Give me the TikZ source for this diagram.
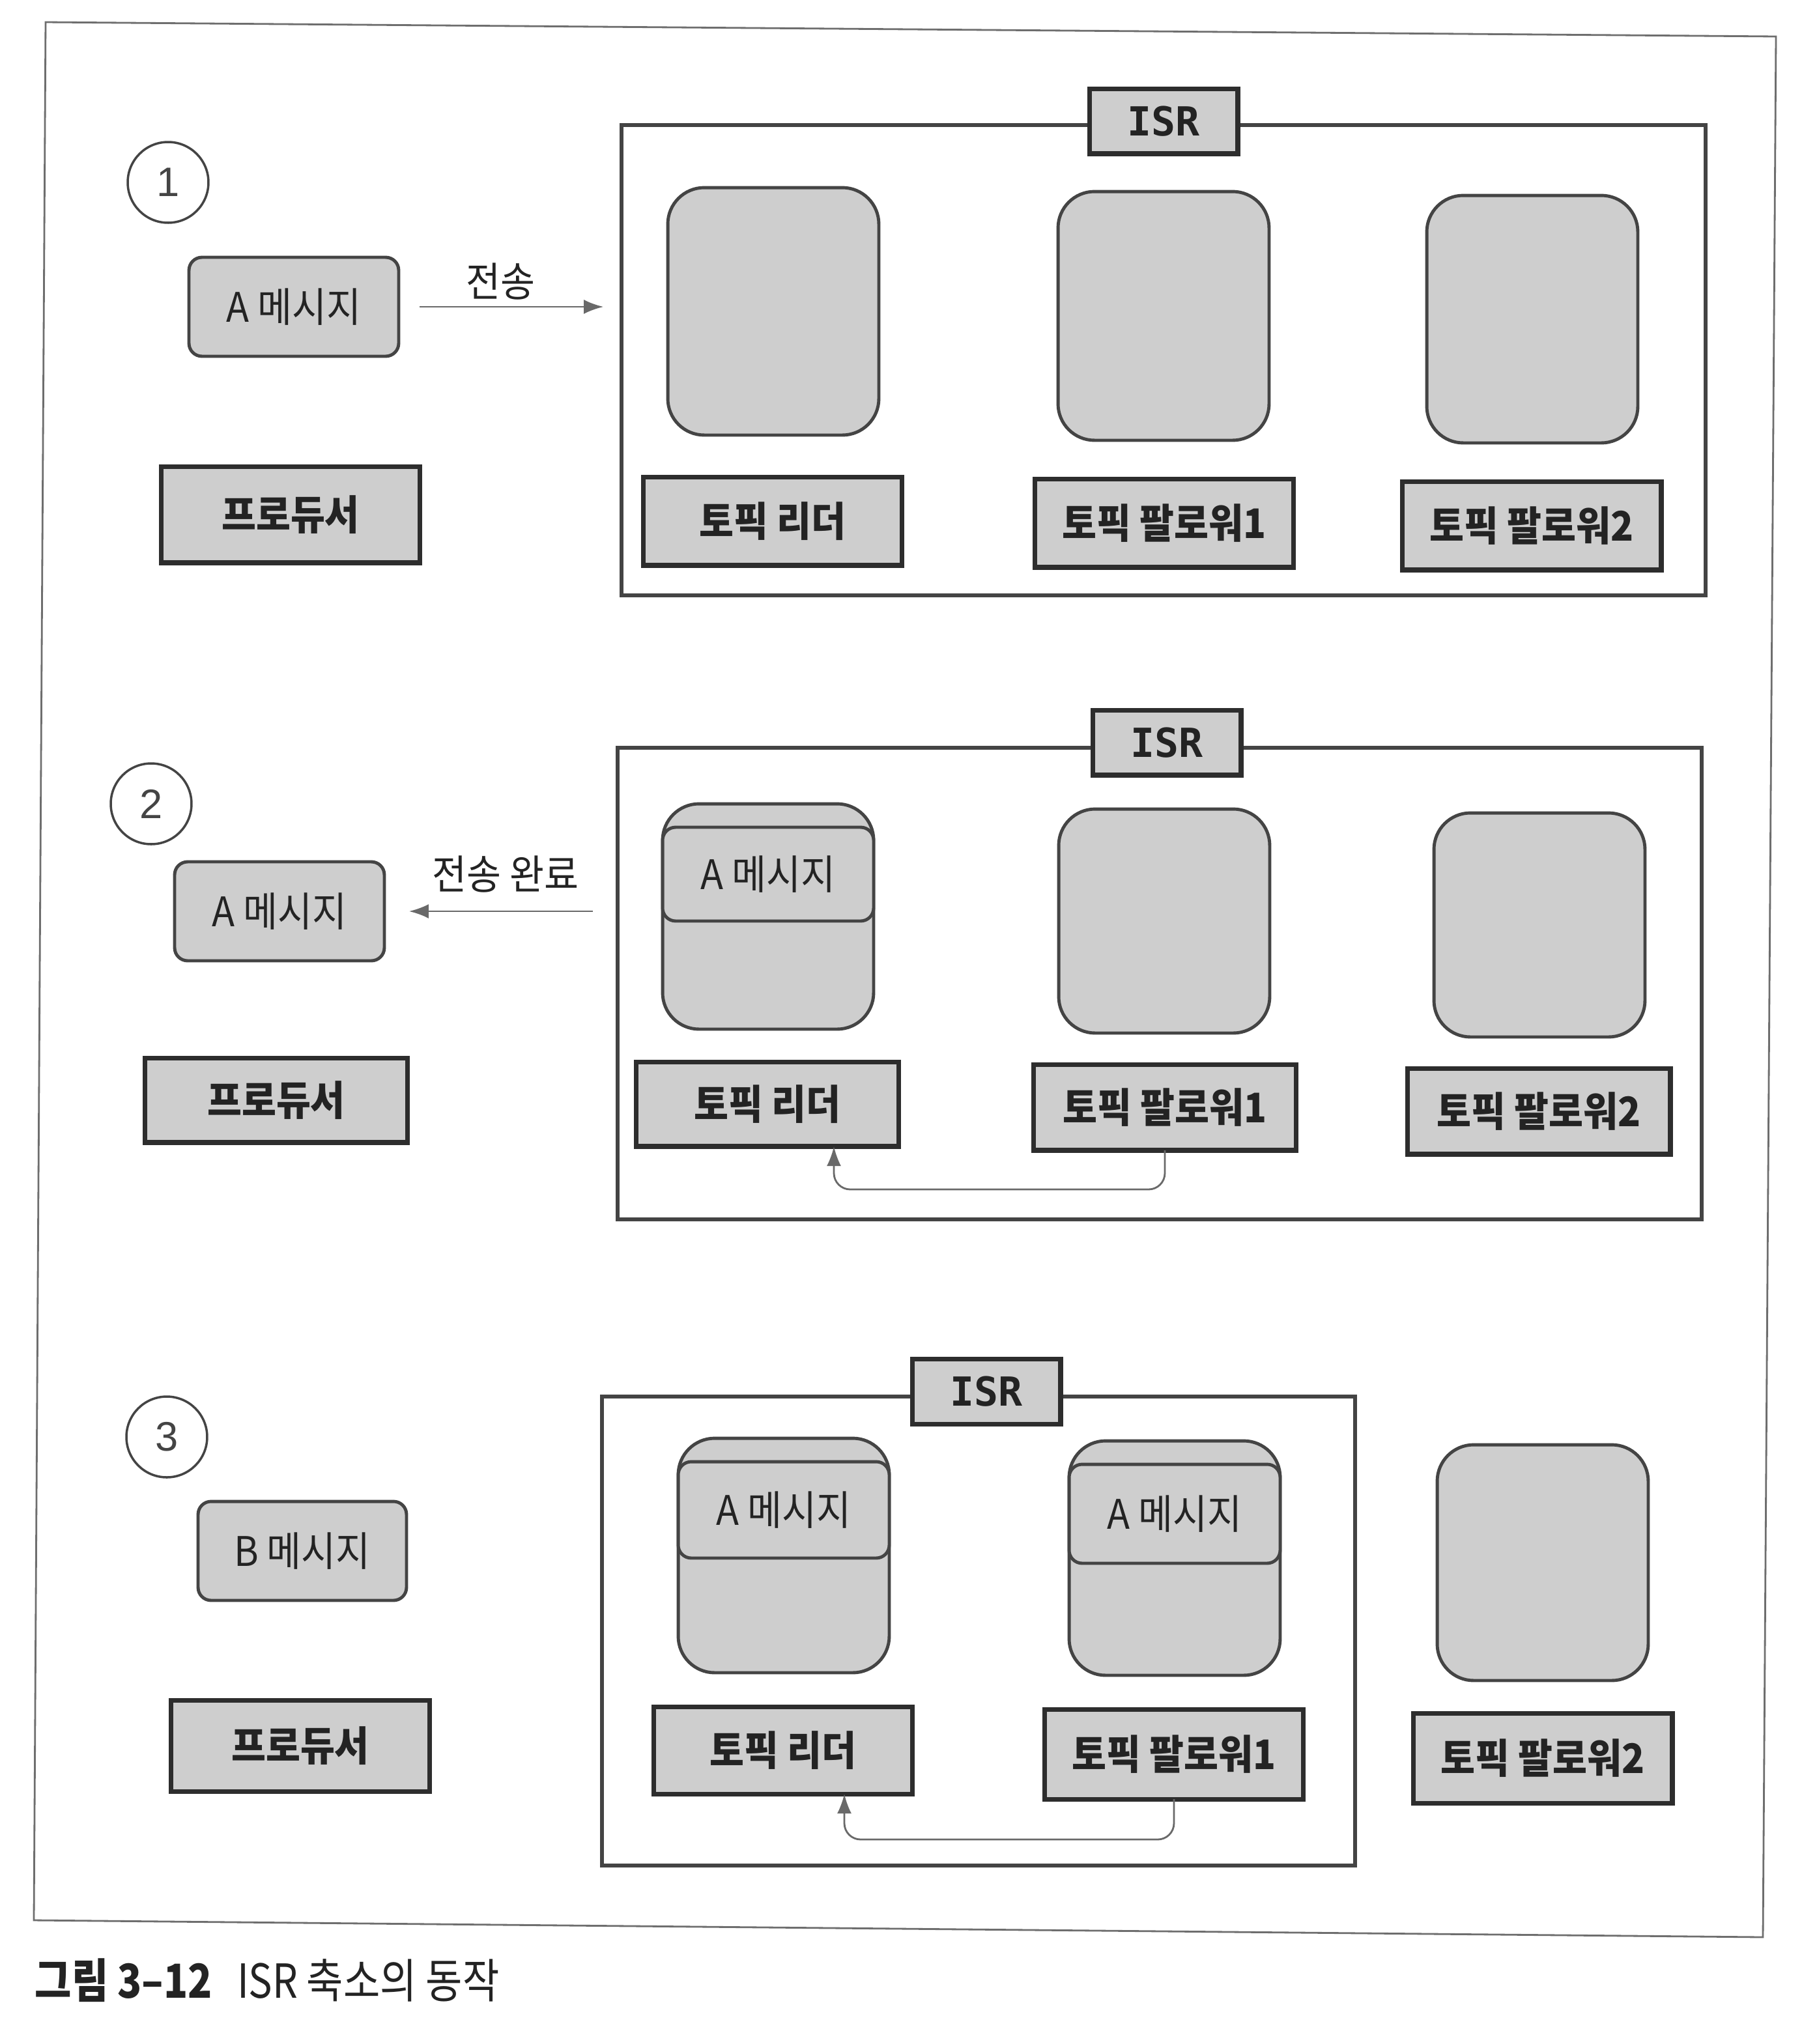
\documentclass[tikz,border=0pt]{standalone}
\usepackage{fontspec}
\setmainfont{Noto Sans CJK KR}
\newfontfamily\kr[FakeStretch=0.92]{Noto Sans CJK KR}
\newfontfamily\krcap[FakeStretch=0.85]{Noto Sans CJK KR}
\newfontfamily\isrfont{DejaVu Sans Mono}
\newfontfamily\numfont{Liberation Sans}
\usetikzlibrary{arrows.meta}
\definecolor{boxfill}{RGB}{206,206,206}
\definecolor{edge}{RGB}{68,68,68}
\definecolor{darkedge}{RGB}{45,45,45}
\definecolor{txt}{RGB}{35,35,35}
\definecolor{connc}{RGB}{105,105,105}
\definecolor{framec}{RGB}{110,110,110}
\begin{document}
\begin{tikzpicture}[x=0.02cm,y=-0.02cm,
  every node/.style={inner sep=0pt, outer sep=0pt, text=txt},
  msgbox/.style={draw=edge, line width=1.4pt, fill=boxfill, rounded corners=0.2cm,
    font=\kr\fontsize{17.8}{17.8}\selectfont, minimum width=3.22cm, minimum height=1.52cm},
  lblbox/.style={draw=darkedge, line width=2pt, fill=boxfill,
    font=\kr\bfseries\fontsize{17.8}{17.8}\selectfont, minimum width=3.98cm, minimum height=1.36cm},
  broker/.style={draw=edge, line width=1.4pt, fill=boxfill, rounded corners=0.56cm, minimum width=3.24cm},
  band/.style={draw=edge, line width=1.4pt, fill=boxfill, rounded corners=0.2cm, minimum width=3.24cm,
    minimum height=1.44cm, font=\kr\fontsize{17.8}{17.8}\selectfont},
  isrbox/.style={draw=edge, line width=1.7pt},
  isrlbl/.style={draw=darkedge, line width=2pt, fill=boxfill, minimum width=2.28cm, minimum height=1cm,
    font=\isrfont\bfseries\fontsize{17.5}{17.5}\selectfont},
  stepnum/.style={circle, draw=edge, line width=1pt, minimum size=1.24cm, text=edge,
    font=\numfont\fontsize{18}{18}\selectfont},
  conn/.style={draw=connc, line width=0.8pt, -{Latex[length=3mm,width=2.2mm]}},
  flowlbl/.style={font=\kr\fontsize{17.8}{17.8}\selectfont}
]
\useasboundingbox (0,0) rectangle (1394,1569);
% outer frame
\draw[draw=framec, line width=0.8pt] (35,17) -- (1363,28) -- (1353,1487) -- (26,1474) -- cycle;

% ---------------- panel 1 ----------------
\node[stepnum] (c1) at (129,140) {1};
\node[msgbox] (amsg1) at (225.5,235.5) {A 메시지};
\node[lblbox] (prod1) at (223,395) [minimum height=1.48cm] {프로듀서};
\node[isrbox, minimum width=16.64cm, minimum height=7.22cm] (isr1) at (893,276.5) {};
\node[isrlbl] (isrl1) at (893,93) {ISR};
\node[broker, minimum height=3.8cm] (b1L) at (593.5,239) {};
\node[broker, minimum height=3.82cm] (b1F1) at (893,242.5) {};
\node[broker, minimum height=3.8cm] (b1F2) at (1176,245) {};
\node[lblbox] (l1L) at (593,400) {토픽 리더};
\node[lblbox] (l1F1) at (893.5,401.5) {토픽 팔로워1};
\node[lblbox] (l1F2) at (1175.5,403.5) {토픽 팔로워2};
\node[flowlbl] (t1) at (384,216) {전송};
\draw[conn, shorten <=0.32cm, shorten >=0.28cm] (amsg1.east) -- (amsg1.east -| isr1.west);

% ---------------- panel 2 ----------------
\node[stepnum] (c2) at (116,617) {2};
\node[msgbox] (amsg2) at (214.5,699.5) {A 메시지};
\node[lblbox] (prod2) at (212,844.5) [minimum width=4.04cm, minimum height=1.3cm] {프로듀서};
\node[isrbox, minimum width=16.64cm, minimum height=7.24cm] (isr2) at (890,755) {};
\node[isrlbl] (isrl2) at (895.5,570) {ISR};
\node[broker, minimum height=3.46cm] (b2L) at (589.5,703.5) {};
\node[band] (m2L) at (589.5,671) {A 메시지};
\node[broker, minimum height=3.44cm] (b2F1) at (893.5,707) {};
\node[broker, minimum height=3.44cm] (b2F2) at (1181.5,710) {};
\node[lblbox, minimum width=4.04cm, minimum height=1.3cm] (l2L) at (589,847.5) {토픽 리더};
\node[lblbox, minimum width=4.04cm, minimum height=1.32cm] (l2F1) at (894,850) {토픽 팔로워1};
\node[lblbox, minimum width=4.04cm, minimum height=1.32cm] (l2F2) at (1181,853) {토픽 팔로워2};
\node[flowlbl] (t2) at (388,671) {전송 완료};
\draw[conn, shorten <=0.38cm, shorten >=0.38cm] (amsg2.east -| isr2.west) -- (amsg2.east);
\coordinate (k2) at (640,913);
\draw[conn, rounded corners=0.25cm] (l2F1.south) |- (k2) -- (k2 |- l2L.south);

% ---------------- panel 3 ----------------
\node[stepnum] (c3) at (128,1103) {3};
\node[msgbox] (bmsg3) at (232,1190.5) [minimum width=3.2cm] {B 메시지};
\node[lblbox] (prod3) at (230.5,1340) [minimum height=1.4cm] {프로듀서};
\node[isrbox, minimum width=11.56cm, minimum height=7.2cm] (isr3) at (751,1252) {};
\node[isrlbl] (isrl3) at (757,1068) {ISR};
\node[broker, minimum height=3.6cm] (b3L) at (601.5,1194) {};
\node[band, minimum height=1.48cm] (m3L) at (601.5,1159) {A 메시지};
\node[broker, minimum height=3.6cm] (b3F1) at (901.5,1196) {};
\node[band, minimum height=1.52cm] (m3F1) at (901.5,1162) {A 메시지};
\node[broker, minimum height=3.62cm] (b3F2) at (1184,1199.5) {};
\node[lblbox, minimum height=1.34cm] (l3L) at (601,1343.5) {토픽 리더};
\node[lblbox, minimum height=1.38cm] (l3F1) at (901,1346.5) {토픽 팔로워1};
\node[lblbox, minimum height=1.38cm] (l3F2) at (1184,1349.5) {토픽 팔로워2};
\coordinate (k3) at (648,1412);
\draw[conn, rounded corners=0.25cm] (l3F1.south) |- (k3) -- (k3 |- l3L.south);

% ---------------- caption ----------------
\node[anchor=west, font=\krcap\bfseries\fontsize{20.5}{20.5}\selectfont] (cap1) at (27,1520) {그림 3–12};
\node[anchor=west, font=\krcap\fontsize{20.5}{20.5}\selectfont] (cap2) at (182,1520) {ISR 축소의 동작};
\end{tikzpicture}
\end{document}
